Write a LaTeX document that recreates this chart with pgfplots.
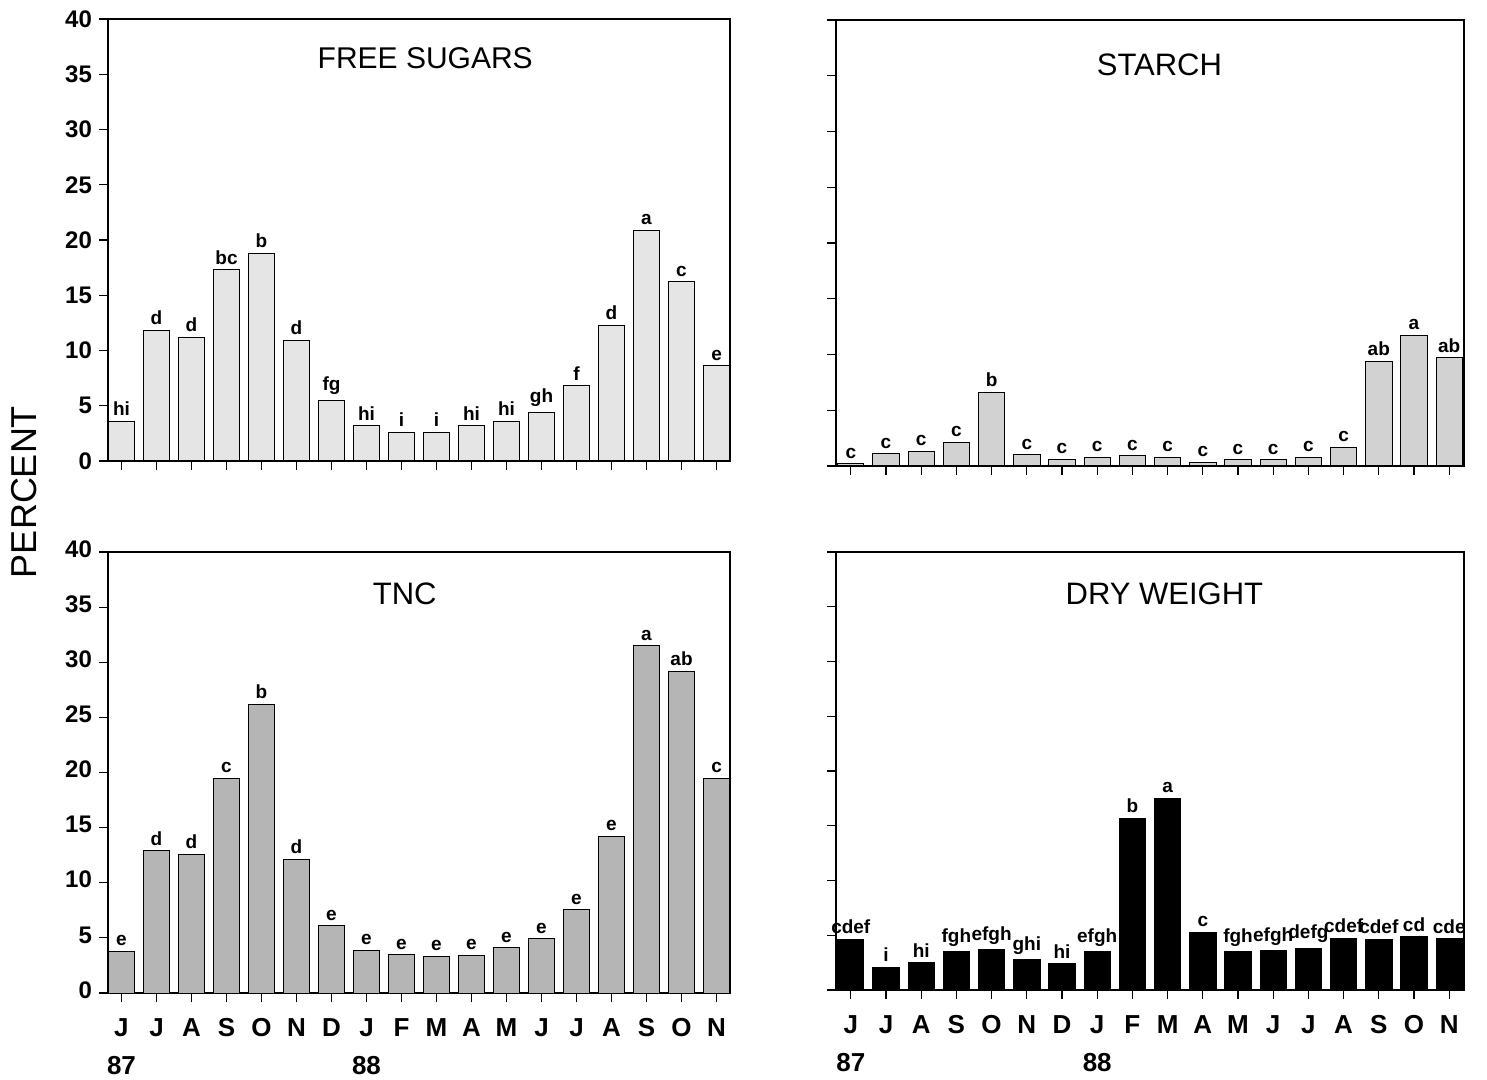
\documentclass[border=0pt]{standalone}
\usepackage{fontspec}
\setmainfont{Liberation Sans}
\usepackage{pgfplots}
\pgfplotsset{compat=1.18}

\pgfplotsset{
  panel/.style={
    scale only axis, anchor=north west,
    ymin=0, ymax=40, ytick={0,5,...,40},
    xtick={0,...,17},
    enlargelimits=false,
    axis line style={line width=0.7pt},
    tick style={line width=0.6pt, black},
    tick align=outside, tick pos=left,
    major tick length=4.5pt,
    ybar, bar width=0.76,
    nodes near coords, point meta=explicit symbolic,
    every node near coord/.append style={font=\fontsize{9.5}{10}\selectfont\bfseries, inner sep=2.5pt, black},
    yticklabel style={font=\fontsize{12}{13}\selectfont\bfseries},
    /pgf/number format/assume math mode=true,
    xticklabels={},
  },
  leftpanel/.style={panel, xmin=-0.385, xmax=17.385, width=311pt},
  rightpanel/.style={panel, xmin=-0.42, xmax=17.42, width=314pt, yticklabels={}, bar width=0.75},
  months/.style={
    xticklabels={{J\\[4pt]87},J,A,S,O,N,D,{J\\[4pt]88},F,M,A,M,J,J,A,S,O,N},
    xticklabel style={align=center, font=\fontsize{13}{15}\selectfont\bfseries, yshift=-3pt},
    typeset ticklabels with strut,
  },
}

\begin{document}
\begin{tikzpicture}
\useasboundingbox (0,0) rectangle (743.5pt,-540pt);

% FREE SUGARS
\begin{axis}[leftpanel, at={(54pt,-9.5pt)}, height=221pt]
\addplot[fill=gray!20, draw=black, line width=0.5pt] coordinates {
(0,3.6) [hi] (1,11.8) [d] (2,11.2) [d] (3,17.3) [bc] (4,18.8) [b] (5,10.9) [d]
(6,5.5) [fg] (7,3.2) [hi] (8,2.6) [i] (9,2.6) [i] (10,3.2) [hi] (11,3.6) [hi]
(12,4.4) [gh] (13,6.8) [f] (14,12.3) [d] (15,20.9) [a] (16,16.2) [c] (17,8.6) [e]
};
\node[font=\fontsize{15}{18}\selectfont] at (rel axis cs:0.51,0.912) {FREE SUGARS};
\end{axis}

% STARCH
\begin{axis}[rightpanel, at={(418pt,-10pt)}, height=223pt]
\addplot[fill=gray!35, draw=black, line width=0.5pt] coordinates {
(0,0.2) [c] (1,1.1) [c] (2,1.3) [c] (3,2.1) [c] (4,6.6) [b] (5,1.0) [c]
(6,0.6) [c] (7,0.75) [c] (8,0.9) [c] (9,0.8) [c] (10,0.35) [c] (11,0.55) [c]
(12,0.55) [c] (13,0.8) [c] (14,1.7) [c] (15,9.4) [ab] (16,11.7) [a] (17,9.7) [ab]
};
\node[font=\fontsize{15.5}{18}\selectfont] at (rel axis cs:0.515,0.9) {STARCH};
\end{axis}

% TNC
\begin{axis}[leftpanel, months, at={(54pt,-276pt)}, height=220.5pt]
\addplot[fill=gray!58, draw=black, line width=0.5pt] coordinates {
(0,3.75) [e] (1,12.9) [d] (2,12.6) [d] (3,19.5) [c] (4,26.2) [b] (5,12.1) [d]
(6,6.1) [e] (7,3.9) [e] (8,3.45) [e] (9,3.35) [e] (10,3.4) [e] (11,4.1) [e]
(12,4.9) [e] (13,7.55) [e] (14,14.2) [e] (15,31.5) [a] (16,29.2) [ab] (17,19.5) [c]
};
\node[font=\fontsize{15.5}{18}\selectfont] at (rel axis cs:0.477,0.905) {TNC};
\end{axis}

% DRY WEIGHT
\begin{axis}[rightpanel, months, at={(418pt,-276pt)}, height=219pt]
\addplot[fill=black, draw=black, line width=0.5pt] coordinates {
(0,4.63) [cdef] (1,2.1) [i] (2,2.47) [hi] (3,3.5) [fgh] (4,3.66) [efgh] (5,2.74) [ghi]
(6,2.4) [hi] (7,3.5) [efgh] (8,15.7) [b] (9,17.5) [a] (10,5.24) [c] (11,3.5) [fgh]
(12,3.57) [efgh] (13,3.8) [defg] (14,4.72) [cdef] (15,4.6) [cdef] (16,4.85) [cd] (17,4.66) [cde]
};
\node[font=\fontsize{15.5}{18}\selectfont] at (rel axis cs:0.523,0.905) {DRY WEIGHT};
\end{axis}

\node[rotate=90, font=\fontsize{18}{20}\selectfont] at (12pt,-246pt) {PERCENT};
\end{tikzpicture}
\end{document}
